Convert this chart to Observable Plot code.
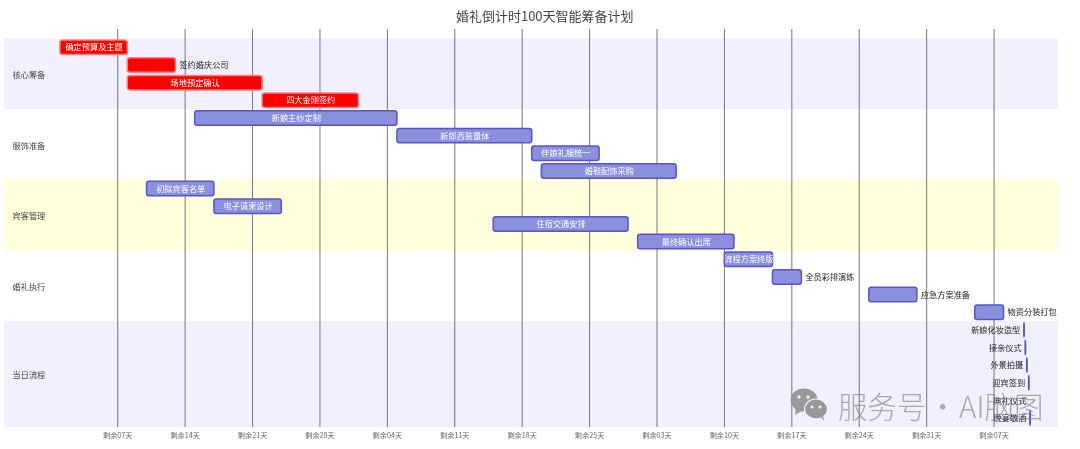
<!DOCTYPE html>
<html><head><meta charset="utf-8">
<script src="https://cdn.jsdelivr.net/npm/d3@7"></script>
<script src="https://cdn.jsdelivr.net/npm/@observablehq/plot@0.6"></script>
<style>
html,body{margin:0;padding:0;background:#fff;overflow:hidden}
#c{position:relative;width:1080px;height:449px;filter:blur(0.35px)}
#c svg{display:block}
#wm{position:absolute;left:838px;top:385px;font:300 29.5px/40px 'Noto Sans CJK SC',sans-serif;color:rgba(120,120,120,.6);white-space:pre;word-spacing:-5px}
#wi{position:absolute;left:790px;top:388px}
</style></head><body><div id="c"></div>
<script>
const chartTitle = "婚礼倒计时100天智能筹备计划";
const watermark = "服务号 · AI脑图";
const sectionNames = ["核心筹备","服饰准备","宾客管理","婚礼执行","当日流程"];
const sectionColors = ["#f0f0ff","#ffffff","#ffffdc","#ffffff","#f0f0ff"];
const sectionFirst = [0,4,8,12,16];
const sectionLast = [4,8,12,16,22];
const taskNames = ["确定预算及主题","签约婚庆公司","场地预定确认","四大金刚签约","新娘主纱定制","新郎西装量体","伴娘礼服统一","婚鞋配饰采购","初拟宾客名单","电子请柬设计","住宿交通安排","最终确认出席","流程方案终版","全员彩排演练","应急方案准备","物资分装打包","新娘化妆造型","接亲仪式","外景拍摄","迎宾签到","典礼仪式","晚宴敬酒"];
const taskStart = [0,7,7,21,14,35,49,50,9,16,45,60,69,74,84,95,100.1,100.24,100.4,100.6,100.7,100.73];
const taskEnd = [7,12,21,31,35,49,56,64,16,23,59,70,74,77,89,98,100.14,100.28,100.44,100.64,100.7,100.77];
const labelOutside = [0,1,0,0,0,0,0,0,0,0,0,0,0,1,1,1,-1,-1,-1,-1,-1,-1];
const tickDays = [6,13,20,27,34,41,48,55,62,69,76,83,90,97];
const tickLabels = ["剩余07天","剩余14天","剩余21天","剩余28天","剩余04天","剩余11天","剩余18天","剩余25天","剩余03天","剩余10天","剩余17天","剩余24天","剩余31天","剩余07天"];

const font = "'Noto Sans CJK SC','Noto Sans',sans-serif";
const tasks = taskNames.map((name,i)=>({name,i,a:taskStart[i],b:taskEnd[i],o:labelOutside[i],crit:i<4}));
const sections = sectionNames.map((name,k)=>({name,k,y1:sectionFirst[k],y2:sectionLast[k],fill:sectionColors[k]}));
const L=-5.8,R=103.65;
const plot = Plot.plot({
  width:1080,height:449,marginTop:38.5,marginBottom:22,marginLeft:4,marginRight:22,
  style:{fontFamily:font,background:"#fff",overflow:"visible"},
  x:{domain:[L,R],axis:null},
  y:{domain:[0,22],reverse:true,axis:null},
  marks:[
    Plot.rect(sections,{x1:()=>L,x2:()=>R,y1:"y1",y2:"y2",fill:"fill"}),
    Plot.ruleX(tickDays,{y1:-0.54,y2:22,stroke:"#777",strokeWidth:1,dx:-0.4}),
    Plot.rect(tasks.filter(t=>t.b>t.a),{x1:"a",x2:"b",y1:d=>d.i+0.09,y2:d=>d.i+0.91,rx:2.5,
      fill:d=>d.crit?"#ff0000":"#8a90dd",stroke:d=>d.crit?"#ff8080":"#5a55c0",strokeWidth:1.5}),
    Plot.text(tasks.filter(t=>t.o===0),{x:d=>(d.a+d.b)/2,y:d=>d.i+0.5,text:"name",fill:"#ffffff",fontSize:8.2}),
    Plot.text(tasks.filter(t=>t.o===1),{x:"b",y:d=>d.i+0.5,text:"name",textAnchor:"start",dx:3.5,fill:"#222",fontSize:8.2}),
    Plot.text(tasks.filter(t=>t.o===-1),{x:"a",y:d=>d.i+0.5,text:"name",textAnchor:"end",dx:-4,fill:"#222",fontSize:8.2}),
    Plot.text(sections,{x:()=>L,y:d=>(d.y1+d.y2)/2,text:"name",textAnchor:"start",dx:8,dy:1,fill:"#444",fontSize:8.2}),
    Plot.text(tickDays,{x:d=>d,y:()=>22.45,dx:-0.4,text:(d,i)=>tickLabels[i],fill:"#666",fontSize:7.2}),
    Plot.text([chartTitle],{x:()=>50.3,y:()=>-1.27,text:d=>d,fill:"#444",fontSize:13})
  ]
});
const c=document.getElementById("c");
c.appendChild(plot);
const wm=document.createElement("div");wm.id="wm";wm.textContent=watermark;c.appendChild(wm);
const wi=document.createElement("div");wi.id="wi";
wi.innerHTML='<svg width="38" height="34" viewBox="0 0 38 34"><g fill="#999"><ellipse cx="14" cy="12" rx="13.5" ry="11.5"/><path d="M6 19l-1 8 8-5z"/></g><g fill="#999" stroke="#f4f4fc" stroke-width="1.2"><ellipse cx="26" cy="21" rx="11.5" ry="10"/></g><path d="M31 29l3 4-1-6z" fill="#999"/><g fill="#f0f0f8"><circle cx="9" cy="9" r="1.7"/><circle cx="18" cy="9" r="1.7"/><circle cx="22" cy="19" r="1.5"/><circle cx="30" cy="19" r="1.5"/></g></svg>';
c.appendChild(wi);
</script></body></html>
